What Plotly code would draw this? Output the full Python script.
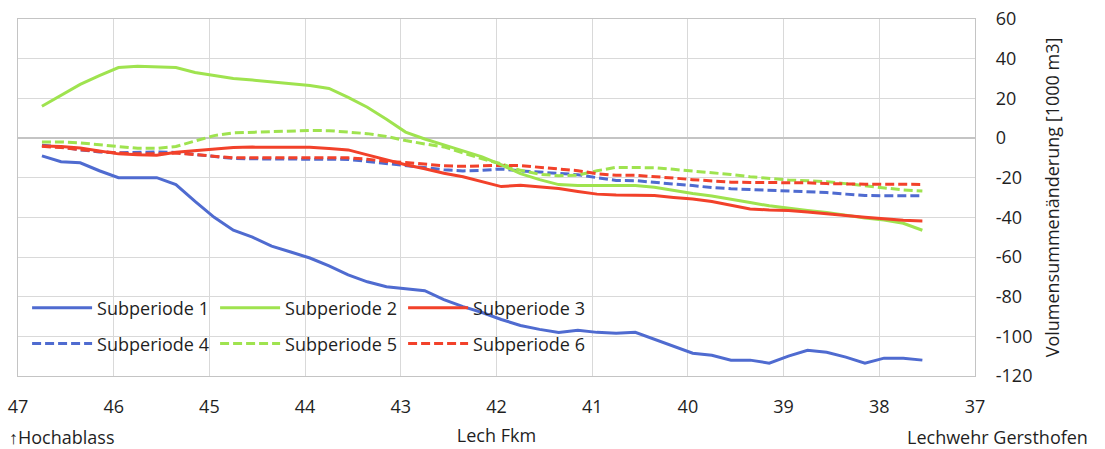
import plotly.graph_objects as go

# Flusskilometer (Lech), stations every 0.2 km
fkm = [46.75, 46.55, 46.35, 46.15, 45.95, 45.75, 45.55, 45.35, 45.15, 44.95,
       44.75, 44.55, 44.35, 44.15, 43.95, 43.75, 43.55, 43.35, 43.15, 42.95,
       42.75, 42.55, 42.35, 42.15, 41.95, 41.75, 41.55, 41.35, 41.15, 40.95,
       40.75, 40.55, 40.35, 40.15, 39.95, 39.75, 39.55, 39.35, 39.15, 38.95,
       38.75, 38.55, 38.35, 38.15, 37.95, 37.75, 37.55]

# Volumensummenänderung [1000 m3]
sub1 = [-9, -12, -12.5, -16.5, -20, -20, -20, -23.5, -32, -40,
        -46.5, -50, -54.5, -57.5, -60.5, -64.5, -69, -72.5, -75, -76,
        -77, -81.5, -85, -88, -91.5, -94.5, -96.5, -98, -97, -98,
        -98.5, -98, -101.5, -105, -108.5, -109.5, -112, -112, -113.5, -110,
        -107, -108, -110.5, -113.5, -111, -111, -112]
sub2 = [16, 21.5, 27, 31.5, 35.5, 36.2, 36, 35.5, 33, 31.5,
        30, 29.2, 28.3, 27.5, 26.5, 25, 20.5, 15.5, 9.5, 3,
        -0.5, -3.5, -6.5, -9.5, -13.5, -18, -21, -23.5, -24, -24,
        -24, -24, -24.8, -26.5, -28, -29.2, -31, -32.5, -34.2, -35.5,
        -36.5, -37.5, -39, -40.3, -41.3, -43, -46.5]
sub3 = [-4, -4.3, -5, -6.5, -8, -8.5, -8.7, -7.2, -6.3, -5.5,
        -4.8, -4.6, -4.6, -4.6, -4.7, -5.3, -6, -8.5, -11, -13.5,
        -15.5, -17.8, -19.5, -22, -24.5, -23.8, -24.5, -25.5, -27, -28.3,
        -28.8, -28.8, -29, -30, -30.8, -32, -34, -35.8, -36.3, -36.5,
        -37.3, -38.3, -39.3, -40, -40.7, -41.5, -41.8]
sub4 = [-3.7, -4.5, -6, -7, -7.5, -7.3, -7, -7.3, -8.3, -9.5,
        -10.3, -10.5, -10.5, -10.5, -10.5, -10.6, -10.8, -11.8, -12.8, -13.8,
        -15, -16, -16.6, -16.3, -15.6, -16.6, -17.2, -17.8, -18.5, -20,
        -21.4, -21.5, -22.5, -23.2, -24, -25, -25.6, -26, -26.4, -26.6,
        -27, -27.5, -28.3, -29, -29.1, -29.1, -29.1]
sub5 = [-2, -2, -2.5, -3.3, -4.2, -5.2, -5.2, -4.3, -1.5, 1.2,
        2.6, 2.9, 2.9, 3.2, 3.8, 3.7, 3, 2.2, 0.8, -1.3,
        -3, -4.5, -7.5, -10.5, -13, -16.3, -18.3, -19, -18.7, -16.5,
        -14.8, -14.8, -15, -15.8, -16.6, -17.5, -18.4, -19.5, -20.5, -21.2,
        -21.5, -22, -23, -24, -25, -26.2, -26.7]
sub6 = [-4.2, -4.8, -5.9, -6.8, -7.6, -8, -8, -7.6, -8.3, -9.3,
        -10, -10, -10, -10, -10, -10, -10, -10.7, -11.8, -12.3,
        -13.3, -14, -14.3, -14, -13.8, -13.9, -14.8, -15.5, -16.5, -18,
        -18.8, -18.8, -19.4, -20.2, -21, -21.7, -22.3, -22.4, -22.4, -22.4,
        -22.6, -23, -23.3, -23.3, -23.3, -23.4, -23.4]

x_ticks = [47, 46, 45, 44, 43, 42, 41, 40, 39, 38, 37]
y_ticks = [60, 40, 20, 0, -20, -40, -60, -80, -100, -120]

BLUE = "#4F6BD0"
GREEN = "#9FE34F"
RED = "#F2412A"
FONT = "Open Sans"
FS = 18
TXT = "#1f1f1f"

series = [
    ("Subperiode 1", sub1, BLUE, "solid", "legend"),
    ("Subperiode 2", sub2, GREEN, "solid", "legend"),
    ("Subperiode 3", sub3, RED, "solid", "legend"),
    ("Subperiode 4", sub4, BLUE, "9px,4px", "legend2"),
    ("Subperiode 5", sub5, GREEN, "9px,4px", "legend2"),
    ("Subperiode 6", sub6, RED, "9px,4px", "legend2"),
]

fig = go.Figure()
# dashed series first so the solid lines sit on top
for name, vals, col, dash, leg in series[3:] + series[:3]:
    fig.add_trace(go.Scatter(
        x=fkm, y=vals, mode="lines", name=name, legend=leg,
        line=dict(color=col, width=3, dash=dash),
    ))

legend_common = dict(
    orientation="h", bgcolor="rgba(0,0,0,0)", borderwidth=0,
    font=dict(family=FONT, size=FS, color=TXT),
    entrywidth=113, entrywidthmode="pixels", itemwidth=60,
    traceorder="normal", xanchor="left", yanchor="middle",
)

fig.update_layout(
    width=1105, height=449,
    margin=dict(l=18, r=130, t=19, b=73),
    paper_bgcolor="white", plot_bgcolor="white",
    font=dict(family=FONT, size=FS, color=TXT),
    legend=dict(x=0.0095, y=0.19, **legend_common),
    legend2=dict(x=0.0095, y=0.09, **legend_common),
    xaxis=dict(
        range=[47, 37], tickvals=x_ticks, ticktext=[str(v) for v in x_ticks],
        showgrid=True, gridcolor="#D9D9D9", gridwidth=1.3,
        showline=True, linecolor="#C4C4C4", linewidth=1.3, mirror=True,
        zeroline=False, ticks="", ticklabelstandoff=14, automargin=False,
        tickfont=dict(family=FONT, size=FS, color=TXT),
        title=dict(text="Lech Fkm", standoff=12,
                   font=dict(family=FONT, size=FS, color=TXT)),
    ),
    yaxis=dict(
        range=[-120, 60], tickvals=y_ticks, ticktext=[str(v) for v in y_ticks],
        side="right", showgrid=True, gridcolor="#D9D9D9", gridwidth=1.3,
        zeroline=True, zerolinecolor="#C4C4C4", zerolinewidth=1.8,
        showline=True, linecolor="#C4C4C4", linewidth=1.3, mirror=True,
        ticks="", ticklabelstandoff=16, automargin=False,
        tickfont=dict(family=FONT, size=FS, color=TXT),
        title=dict(text="Volumensummenänderung [1000 m3]", standoff=14,
                   font=dict(family=FONT, size=FS, color=TXT)),
    ),
    annotations=[
        dict(text="↑Hochablass", xref="paper", yref="paper", x=-0.011, y=-0.172,
             xanchor="left", yanchor="middle", showarrow=False,
             font=dict(family=FONT, size=FS, color=TXT)),
        dict(text="Lechwehr Gersthofen", xref="paper", yref="paper", x=1.12, y=-0.172,
             xanchor="right", yanchor="middle", showarrow=False,
             font=dict(family=FONT, size=FS, color=TXT)),
    ],
)

fig.write_html("out.html")
